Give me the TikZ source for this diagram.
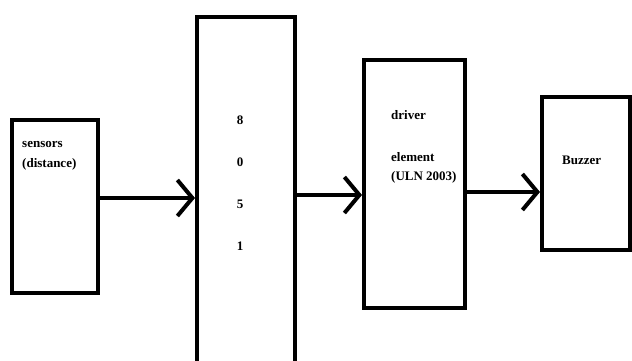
\documentclass[tikz,border=0pt]{standalone}
\usepackage{fontspec}
\setmainfont{Liberation Serif}
\usetikzlibrary{arrows.meta}
\begin{document}
\begin{tikzpicture}[x=1pt,y=-1pt,
  blk/.style={draw=black,line width=4pt,inner sep=0pt,minimum width=#1},
  conn/.style={line width=4pt,-{Straight Barb[length=15pt 0,width=36pt 0,line width=4pt]}},
  lbl/.style={font=\bfseries\fontsize{13}{15}\selectfont,anchor=west,inner sep=0pt}]
\useasboundingbox[fill=white] (0,0) rectangle (632,361);
\begin{scope}
\clip (0,0) rectangle (632,361);
\node[blk=86pt,minimum height=173pt] (sen) at (55,206.5) {};
\node[blk=98pt,minimum height=373pt] (mcu) at (246,203.5) {};
\node[blk=101pt,minimum height=248pt] (drv) at (414.5,184) {};
\node[blk=88pt,minimum height=153pt] (buz) at (586,173.5) {};
\end{scope}
\node[lbl] (t1) at (22,144) {sensors};
\node[lbl] (t2) at (22,164) {(distance)};
\node[font=\bfseries\fontsize{13}{15}\selectfont] (d8) at (240,120) {8};
\node[font=\bfseries\fontsize{13}{15}\selectfont] (d0) at (240,162) {0};
\node[font=\bfseries\fontsize{13}{15}\selectfont] (d5) at (240,204) {5};
\node[font=\bfseries\fontsize{13}{15}\selectfont] (d1) at (240,246) {1};
\node[lbl] (t3) at (391,115) {driver};
\node[lbl] (t4) at (391,157) {element};
\node[lbl] (t5) at (391,177) {(ULN 2003)};
\node[lbl] (t6) at (562,160) {Buzzer};
\coordinate (a1) at (0,198);
\coordinate (a2) at (0,195);
\coordinate (a3) at (0,192);
\draw[conn] (sen.east |- a1) -- (mcu.west |- a1);
\draw[conn] (mcu.east |- a2) -- (drv.west |- a2);
\draw[conn] (drv.east |- a3) -- (buz.west |- a3);
\end{tikzpicture}
\end{document}
